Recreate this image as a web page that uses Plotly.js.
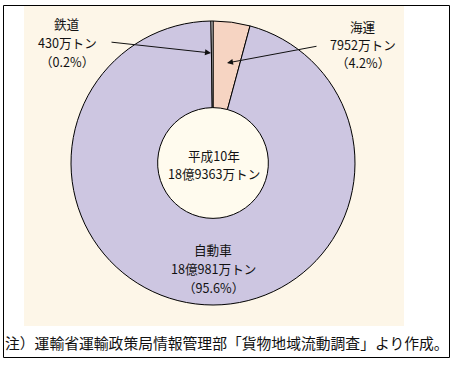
<!DOCTYPE html>
<html>
<head>
<meta charset="utf-8">
<script src="https://cdn.plot.ly/plotly-3.0.1.min.js"></script>
<style>html,body{margin:0;padding:0;background:#fff;}#chart{width:457px;height:367px;}</style>
</head>
<body>
<div id="chart"></div>
<script>
// Data (clockwise from 12 o'clock)
const categories = ["海運", "自動車", "鉄道"];
const values = [7952, 180981, 430];           // 万トン
const percents = ["4.2%", "95.6%", "0.2%"];
const amountLabels = ["7952万トン", "18億981万トン", "430万トン"];
const centerLines = ["平成10年", "18億9363万トン"];
const noteText = "注）運輸省運輸政策局情報管理部「貨物地域流動調査」より作成。";

const W = 457, H = 367;
const px = x => x / W;
const py = y => 1 - y / H;

const font = {family: "Noto Sans CJK JP, Noto Sans, sans-serif", size: 12.6, color: "#111"};

const trace = {
  type: "pie",
  labels: categories,
  values: values,
  sort: false,
  direction: "clockwise",
  rotation: 0,
  hole: 0.39,
  textinfo: "none",
  hoverinfo: "none",
  marker: {colors: ["#f6d4c2", "#cdc6e1", "#ffffff"], line: {color: "#000", width: 1}},
  domain: {x: [px(71), px(355)], y: [py(305), py(21)]},
  showlegend: false
};

function txt(text, x, y, f) {
  return {text: text, x: px(x), y: py(y), xref: "paper", yref: "paper", showarrow: false,
          xanchor: "center", yanchor: "middle", font: f || font, align: "center", borderpad: 0};
}
function block(i, x, y0, dy) {
  const lines = [categories[i], amountLabels[i], "（" + percents[i] + "）"];
  return lines.map((t, k) => txt(t, x, y0 + k * dy));
}

const annotations = [
  ...block(2, 67, 24, 18.5),
  ...block(0, 363, 26, 18.5),
  ...block(1, 213, 250, 18.5),
  txt(centerLines[0], 214, 155),
  txt(centerLines[1], 214, 173.5),
  {text: "", x: px(211), y: py(53), xref: "paper", yref: "paper", showarrow: true, ax: -101, ay: -11,
   arrowhead: 2, arrowsize: 1.2, arrowwidth: 1, arrowcolor: "#111", standoff: 0},
  {text: "", x: px(227), y: py(63), xref: "paper", yref: "paper", showarrow: true, ax: 91, ay: -17,
   arrowhead: 2, arrowsize: 1.2, arrowwidth: 1, arrowcolor: "#111", standoff: 0},
  txt(noteText, 227, 342, {family: "Noto Sans CJK JP, sans-serif", size: 14.8, color: "#111"})
];

const shapes = [
  {type: "rect", xref: "paper", yref: "paper", x0: px(24), x1: px(404), y0: py(326), y1: py(5),
   fillcolor: "#fdf6e8", line: {width: 0}, layer: "below"},
  {type: "circle", xref: "paper", yref: "paper", x0: px(158), x1: px(268), y0: py(218), y1: py(108),
   fillcolor: "#fffbee", line: {width: 0}, layer: "below"},
  {type: "rect", xref: "paper", yref: "paper", x0: px(3.5), x1: px(449.5), y0: py(357.5), y1: py(5.5),
   fillcolor: "rgba(0,0,0,0)", line: {color: "#000", width: 1}, layer: "above"}
];

const layout = {
  width: W, height: H,
  margin: {l: 0, r: 0, t: 0, b: 0},
  paper_bgcolor: "#ffffff",
  plot_bgcolor: "rgba(0,0,0,0)",
  annotations: annotations,
  shapes: shapes,
  showlegend: false
};

Plotly.newPlot("chart", [trace], layout, {staticPlot: true, displayModeBar: false});
</script>
</body>
</html>
